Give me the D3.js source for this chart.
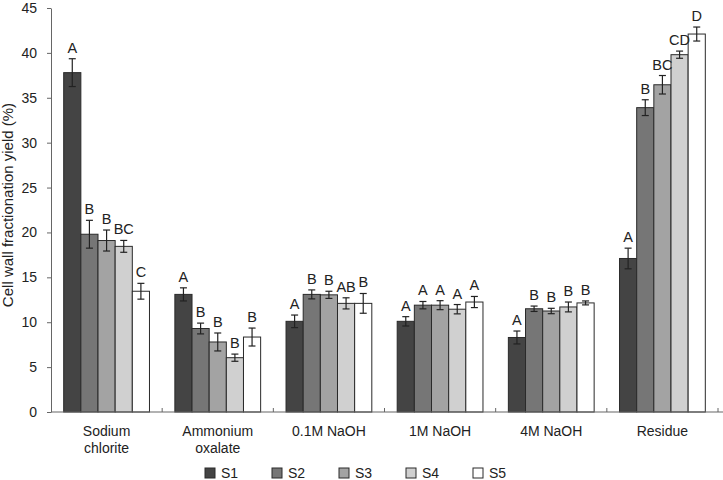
<!DOCTYPE html>
<html>
<head>
<meta charset="utf-8">
<script src="https://cdn.jsdelivr.net/npm/d3@7"></script>
<style>
  body { margin: 0; background: #fff; }
  svg { display: block; font-family: "Liberation Sans", Arial, Helvetica, sans-serif; }
</style>
</head>
<body>
<svg id="chart" width="723" height="480"></svg>
<script>
const categories = ["Sodium chlorite", "Ammonium oxalate", "0.1M NaOH", "1M NaOH", "4M NaOH", "Residue"];
const categoryLines = [["Sodium", "chlorite"], ["Ammonium", "oxalate"], ["0.1M NaOH"], ["1M NaOH"], ["4M NaOH"], ["Residue"]];
const seriesNames = ["S1", "S2", "S3", "S4", "S5"];
const S1 = [37.8, 13.1, 10.1, 10.1, 8.3, 17.1];
const S2 = [19.8, 9.3, 13.1, 11.9, 11.5, 33.9];
const S3 = [19.1, 7.8, 13.05, 11.9, 11.25, 36.45];
const S4 = [18.45, 6.05, 12.1, 11.45, 11.7, 39.8];
const S5 = [13.45, 8.35, 12.1, 12.25, 12.15, 42.1];
const E1 = [1.55, 0.73, 0.7, 0.52, 0.72, 1.15];
const E2 = [1.55, 0.6, 0.5, 0.41, 0.3, 0.88];
const E3 = [1.17, 1.0, 0.4, 0.5, 0.3, 1.03];
const E4 = [0.66, 0.4, 0.62, 0.52, 0.55, 0.4];
const E5 = [0.88, 1.0, 1.1, 0.62, 0.22, 0.78];
const L1 = ["A", "A", "A", "A", "A", "A"];
const L2 = ["B", "B", "B", "A", "B", "B"];
const L3 = ["B", "B", "B", "A", "B", "BC"];
const L4 = ["BC", "B", "AB", "A", "B", "CD"];
const L5 = ["C", "B", "B", "A", "B", "D"];
const yTicks = [0, 5, 10, 15, 20, 25, 30, 35, 40, 45];
const colors = ["#444444", "#767676", "#a3a3a3", "#d0d0d0", "#ffffff"];

const values = [S1, S2, S3, S4, S5];
const errors = [E1, E2, E3, E4, E5];
const letters = [L1, L2, L3, L4, L5];

const svg = d3.select("#chart");
const mLeft = 51, mRight = 718, mTop = 8, mBottom = 412;

const x0 = d3.scaleBand().domain(categories).range([mLeft, mRight]).paddingInner(0).paddingOuter(0);
const x1 = d3.scaleBand().domain(seriesNames).range([0, x0.bandwidth()]).paddingOuter(0.74).paddingInner(0);
const y = d3.scaleLinear().domain([0, 45]).range([mBottom, mTop]);

const data = [];
categories.forEach((c, i) => {
  seriesNames.forEach((s, j) => {
    data.push({ cat: c, ser: s, v: values[j][i], e: errors[j][i], l: letters[j][i], color: colors[j] });
  });
});

// bars
svg.append("g").selectAll("rect").data(data).join("rect")
  .attr("x", d => x0(d.cat) + x1(d.ser))
  .attr("y", d => y(d.v))
  .attr("width", x1.bandwidth())
  .attr("height", d => y(0) - y(d.v))
  .attr("fill", d => d.color)
  .attr("stroke", "#2a2a2a")
  .attr("stroke-width", 1);

// error bars
const eg = svg.append("g").attr("stroke", "#222").attr("stroke-width", 1.2);
data.forEach(d => {
  const cx = x0(d.cat) + x1(d.ser) + x1.bandwidth() / 2;
  eg.append("line").attr("x1", cx).attr("x2", cx).attr("y1", y(d.v + d.e)).attr("y2", y(d.v - d.e));
  eg.append("line").attr("x1", cx - 3.5).attr("x2", cx + 3.5).attr("y1", y(d.v + d.e)).attr("y2", y(d.v + d.e));
  eg.append("line").attr("x1", cx - 3.5).attr("x2", cx + 3.5).attr("y1", y(d.v - d.e)).attr("y2", y(d.v - d.e));
});

// significance letters
svg.append("g").selectAll("text").data(data).join("text")
  .attr("x", d => x0(d.cat) + x1(d.ser) + x1.bandwidth() / 2)
  .attr("y", d => y(d.v + d.e) - 6)
  .attr("text-anchor", "middle")
  .attr("font-size", 14.5)
  .attr("fill", "#222")
  .text(d => d.l);

// y axis
const yAxis = svg.append("g").attr("transform", `translate(${mLeft},0)`)
  .call(d3.axisLeft(y).tickValues(yTicks).tickSize(4).tickPadding(10).tickSizeOuter(0));
yAxis.select(".domain").attr("stroke", "#666");
yAxis.selectAll(".tick line").attr("stroke", "#666");
yAxis.selectAll(".tick text").attr("font-size", 14).attr("fill", "#222")
  .attr("font-family", "Liberation Sans, Arial, sans-serif");

// x axis line
svg.append("line").attr("x1", mLeft).attr("x2", 723).attr("y1", mBottom).attr("y2", mBottom)
  .attr("stroke", "#666").attr("stroke-width", 1.2);
// inner ticks at group boundaries
svg.append("g").selectAll("line").data(categories).join("line")
  .attr("x1", d => x0(d) + x0.bandwidth()).attr("x2", d => x0(d) + x0.bandwidth())
  .attr("y1", mBottom).attr("y2", mBottom - 4)
  .attr("stroke", "#666");

// category labels
const cl = svg.append("g");
categories.forEach((c, i) => {
  const t = cl.append("text")
    .attr("x", x0(c) + x0.bandwidth() / 2)
    .attr("y", 436)
    .attr("text-anchor", "middle")
    .attr("font-size", 14)
    .attr("fill", "#222");
  categoryLines[i].forEach((line, k) => {
    t.append("tspan").attr("x", x0(c) + x0.bandwidth() / 2).attr("dy", k === 0 ? 0 : 17).text(line);
  });
});

// y title
svg.append("text")
  .attr("transform", "translate(13,205) rotate(-90)")
  .attr("text-anchor", "middle")
  .attr("font-size", 15)
  .attr("fill", "#222")
  .text("Cell wall fractionation yield (%)");

// legend
const lg = svg.append("g").attr("transform", "translate(205,468)");
seriesNames.forEach((s, j) => {
  const g = lg.append("g").attr("transform", `translate(${j * 67},0)`);
  g.append("rect").attr("x", 0).attr("y", 0).attr("width", 10).attr("height", 10)
    .attr("fill", colors[j]).attr("stroke", "#2a2a2a").attr("stroke-width", 1);
  g.append("text").attr("x", 16).attr("y", 10).attr("font-size", 14).attr("fill", "#222").text(s);
});
</script>
</body>
</html>
